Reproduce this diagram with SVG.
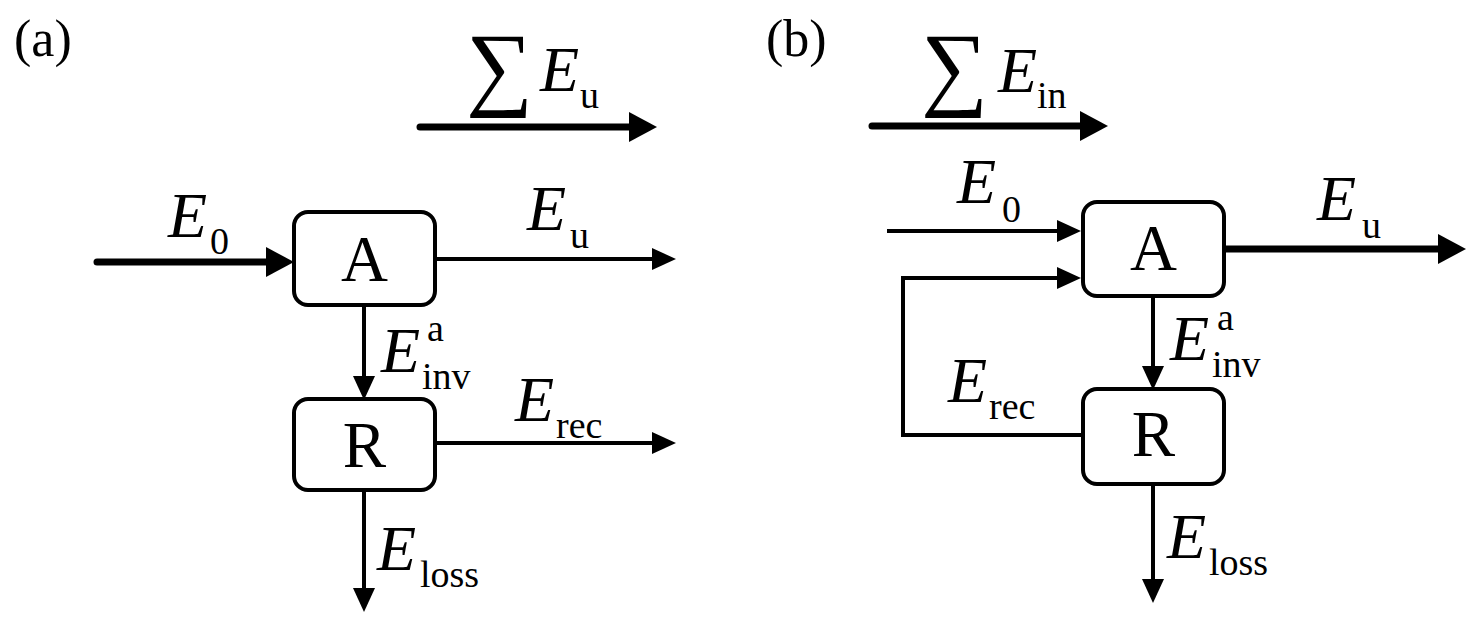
<svg xmlns="http://www.w3.org/2000/svg" width="1479" height="625" viewBox="0 0 1479 625">
<defs>
<marker id="ah" markerUnits="userSpaceOnUse" markerWidth="24" markerHeight="22" refX="0" refY="11" orient="auto" overflow="visible"><path d="M0,0 L24,11 L0,22 Z" fill="#000"/></marker>
<marker id="ahk" markerUnits="userSpaceOnUse" markerWidth="28" markerHeight="30" refX="0" refY="15" orient="auto" overflow="visible"><path d="M0,0 L28,15 L0,30 Z" fill="#000"/></marker>
</defs>

<g id="connectors" fill="none" stroke="#000">
<g stroke-width="7" stroke-linecap="round" marker-end="url(#ahk)">
<path d="M420,127 H629"/>
<path d="M97,262 H266"/>
<path d="M872,126 H1080"/>
<path d="M1224,249 H1438"/>
</g>
<g stroke-width="4" marker-end="url(#ah)">
<path d="M435,259 H652"/>
<path d="M364,305 V376"/>
<path d="M435,443 H652"/>
<path d="M364,490 V588"/>
<path d="M887,231 H1057"/>
<path d="M1083,435 H903 V278 H1057"/>
<path d="M1153,296 V366"/>
<path d="M1153,484 V579"/>
</g>
</g>

<g id="labels-a" fill="#000">
<text font-family="Times New Roman" font-size="52" x="14" y="56">(a)</text>
<text font-family="Times New Roman" font-size="94" x="466" y="98">∑</text>
<text font-family="Times New Roman" font-size="64" font-style="italic" x="540" y="91">E</text>
<text font-family="Times New Roman" font-size="38" x="580" y="108">u</text>
<text font-family="Times New Roman" font-size="64" font-style="italic" x="168" y="237">E</text>
<text font-family="Times New Roman" font-size="38" x="210" y="254">0</text>
<text font-family="Times New Roman" font-size="64" font-style="italic" x="527" y="230">E</text>
<text font-family="Times New Roman" font-size="38" x="570" y="248">u</text>
<text font-family="Times New Roman" font-size="64" font-style="italic" x="381" y="372">E</text>
<text font-family="Times New Roman" font-size="38" x="427" y="341">a</text>
<text font-family="Times New Roman" font-size="38" x="422" y="389">inv</text>
<text font-family="Times New Roman" font-size="64" font-style="italic" x="515" y="421">E</text>
<text font-family="Times New Roman" font-size="38" x="556" y="438">rec</text>
<text font-family="Times New Roman" font-size="64" font-style="italic" x="377" y="570">E</text>
<text font-family="Times New Roman" font-size="38" x="420" y="587">loss</text>
</g>

<g id="node-a-A">
<rect x="294" y="212" width="141" height="93" rx="14" fill="#fff" stroke="#000" stroke-width="4"/>
<text font-family="Times New Roman" font-size="65" text-anchor="middle" x="364.5" y="281">A</text>
</g>
<g id="node-a-R">
<rect x="294" y="399" width="141" height="91" rx="14" fill="#fff" stroke="#000" stroke-width="4"/>
<text font-family="Times New Roman" font-size="65" text-anchor="middle" x="364.5" y="467">R</text>
</g>

<g id="labels-b" fill="#000">
<text font-family="Times New Roman" font-size="52" x="766" y="56">(b)</text>
<text font-family="Times New Roman" font-size="94" x="921" y="98">∑</text>
<text font-family="Times New Roman" font-size="64" font-style="italic" x="998" y="92">E</text>
<text font-family="Times New Roman" font-size="38" x="1037" y="108">in</text>
<text font-family="Times New Roman" font-size="64" font-style="italic" x="957" y="203">E</text>
<text font-family="Times New Roman" font-size="38" x="1002" y="222">0</text>
<text font-family="Times New Roman" font-size="64" font-style="italic" x="1317" y="220">E</text>
<text font-family="Times New Roman" font-size="38" x="1362" y="238">u</text>
<text font-family="Times New Roman" font-size="64" font-style="italic" x="1170" y="360">E</text>
<text font-family="Times New Roman" font-size="38" x="1217" y="330">a</text>
<text font-family="Times New Roman" font-size="38" x="1212" y="377">inv</text>
<text font-family="Times New Roman" font-size="64" font-style="italic" x="948" y="402">E</text>
<text font-family="Times New Roman" font-size="38" x="989" y="419">rec</text>
<text font-family="Times New Roman" font-size="64" font-style="italic" x="1167" y="558">E</text>
<text font-family="Times New Roman" font-size="38" x="1209" y="575">loss</text>
</g>

<g id="node-b-A">
<rect x="1083" y="202" width="141" height="94" rx="14" fill="#fff" stroke="#000" stroke-width="4"/>
<text font-family="Times New Roman" font-size="65" text-anchor="middle" x="1153.5" y="270">A</text>
</g>
<g id="node-b-R">
<rect x="1083" y="389" width="141" height="95" rx="14" fill="#fff" stroke="#000" stroke-width="4"/>
<text font-family="Times New Roman" font-size="65" text-anchor="middle" x="1153.5" y="456">R</text>
</g>
</svg>
